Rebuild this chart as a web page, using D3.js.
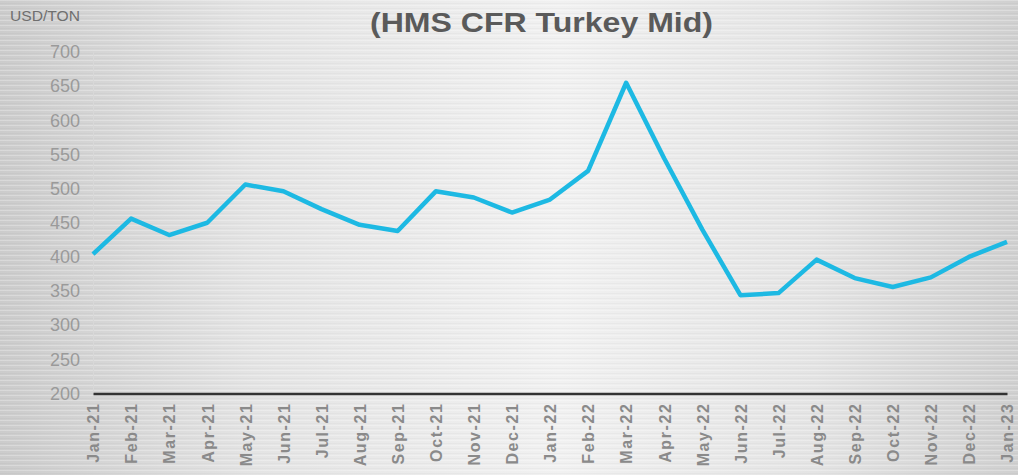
<!DOCTYPE html>
<html>
<head>
<meta charset="utf-8">
<script src="https://cdn.jsdelivr.net/npm/d3@7"></script>
<style>
  body { margin: 0; background: #e6e6e6; }
  svg { display: block; }
</style>
</head>
<body>
<svg width="1018" height="475"></svg>
<script>
// months and prices (USD/TON)
var months = ["Jan-21","Feb-21","Mar-21","Apr-21","May-21","Jun-21","Jul-21","Aug-21","Sep-21","Oct-21","Nov-21","Dec-21",
              "Jan-22","Feb-22","Mar-22","Apr-22","May-22","Jun-22","Jul-22","Aug-22","Sep-22","Oct-22","Nov-22","Dec-22","Jan-23"];
var prices = [404, 456, 432, 450, 506, 496, 470, 447, 438, 496, 487, 465,
              484, 526, 655, 544, 440, 344, 347, 396, 369, 356, 370, 400, 422];
var yTicks = [200, 250, 300, 350, 400, 450, 500, 550, 600, 650, 700];
var titleText = "(HMS CFR Turkey Mid)";
var unitText = "USD/TON";

var svg = d3.select("svg"),
    W = +svg.attr("width"), H = +svg.attr("height");

// brushed metal-ish background
var defs = svg.append("defs");
var grad = defs.append("linearGradient").attr("id", "bg").attr("x1", "0").attr("x2", "1").attr("y1", "0").attr("y2", "0");
grad.append("stop").attr("offset", "0").attr("stop-color", "#cccccc");
grad.append("stop").attr("offset", "0.25").attr("stop-color", "#e4e4e4");
grad.append("stop").attr("offset", "0.55").attr("stop-color", "#f1f1f1");
grad.append("stop").attr("offset", "0.8").attr("stop-color", "#e4e4e4");
grad.append("stop").attr("offset", "1").attr("stop-color", "#d0d0d0");
svg.append("rect").attr("width", W).attr("height", H).attr("fill", "url(#bg)");

var pat = defs.append("pattern").attr("id", "stripes").attr("width", 8).attr("height", 5).attr("patternUnits", "userSpaceOnUse");
pat.append("rect").attr("width", 8).attr("height", 1).attr("fill", "#ffffff").attr("opacity", 0.25);
pat.append("rect").attr("y", 3).attr("width", 8).attr("height", 1).attr("fill", "#000000").attr("opacity", 0.025);
svg.append("rect").attr("width", W).attr("height", H).attr("fill", "url(#stripes)");

var margin = {left: 93, right: 11, top: 52, bottom: 82};

var x = d3.scalePoint().domain(months).range([margin.left, W - margin.right]);
var y = d3.scaleLinear().domain([200, 700]).range([H - margin.bottom + 0.5, margin.top]);

// title
svg.append("text")
    .attr("x", 370).attr("y", 32)
    .attr("textLength", 343).attr("lengthAdjust", "spacingAndGlyphs")
    .style("font", "bold 28px 'Liberation Sans', Arial, sans-serif")
    .attr("fill", "#5a5a5a")
    .text(titleText);

svg.append("text")
    .attr("x", 10).attr("y", 21)
    .attr("textLength", 70).attr("lengthAdjust", "spacingAndGlyphs")
    .style("font", "14px 'Liberation Sans', Arial, sans-serif")
    .attr("fill", "#6f6f6f")
    .text(unitText);

// y axis labels
var yAxis = svg.append("g")
    .attr("transform", "translate(" + margin.left + ",0)")
    .call(d3.axisLeft(y).tickValues(yTicks).tickSize(0).tickPadding(13));
yAxis.select(".domain").attr("stroke", "#d8d8d8").attr("stroke-width", 1);
yAxis.selectAll("text")
    .style("font", "18px 'Liberation Sans', Arial, sans-serif")
    .attr("fill", "#9a9a9a");

// x axis
var xAxis = svg.append("g")
    .attr("transform", "translate(0," + y(200) + ")")
    .call(d3.axisBottom(x).tickSize(0).tickPadding(0));
xAxis.select(".domain").attr("stroke", "#333").attr("stroke-width", 2.5);
xAxis.selectAll("text")
    .attr("transform", "rotate(-90)")
    .attr("text-anchor", "end")
    .attr("x", -9).attr("y", 0).attr("dy", "0.36em")
    .style("font", "bold 16px 'Liberation Sans', Arial, sans-serif")
    .style("letter-spacing", "1.6px")
    .attr("fill", "#8a8a8a");

// price line
var line = d3.line()
    .x(function(d, i) { return x(months[i]); })
    .y(function(d) { return y(d); });

svg.append("path")
    .datum(prices)
    .attr("d", line)
    .attr("fill", "none")
    .attr("stroke", "#1db9e3")
    .attr("stroke-width", 4.5)
    .attr("stroke-linejoin", "round");
</script>
</body>
</html>
